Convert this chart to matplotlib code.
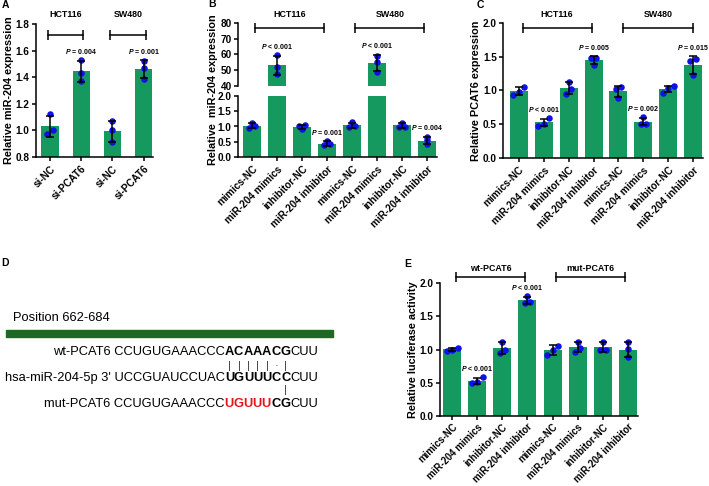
import numpy as np
import matplotlib
matplotlib.use('Agg')
from matplotlib import pyplot as plt
from matplotlib.patches import Rectangle

plt.rcParams['font.family'] = ['Liberation Sans', 'DejaVu Sans']
plt.rcParams['font.weight'] = 'bold'
plt.rcParams['mathtext.fontset'] = 'custom'
plt.rcParams['mathtext.it'] = 'Liberation Sans:italic:bold'
plt.rcParams['mathtext.rm'] = 'Liberation Sans:bold'

W, H = 709, 486
BAR_COLOR = '#16995f'
DOT_COLOR = '#1010e8'
TICK_FS = 7.2
PV_FS = 5.0

# ---- data ----
a_labels = ['si-NC', 'si-PCAT6', 'si-NC', 'si-PCAT6']
a_points = [[0.97, 1.12, 1.00], [1.53, 1.43, 1.37], [1.07, 1.00, 0.91], [1.52, 1.47, 1.39]]
a_pvals = ['', '$P$ = 0.004', '', '$P$ = 0.001']

group_labels = ['mimics-NC', 'miR-204 mimics', 'inhibitor-NC', 'miR-204 inhibitor'] * 2

b_points = [[1.11, 0.96, 1.00], [59.4, 52.3, 47.7], [1.04, 0.92, 1.02], [0.52, 0.38, 0.42],
            [1.14, 0.99, 1.00], [59.1, 55.5, 49.1], [1.13, 0.99, 0.99], [0.65, 0.55, 0.42]]
b_pvals = ['', '$P$ < 0.001', '', '$P$ = 0.001', '', '$P$ < 0.001', '', '$P$ = 0.004']

c_points = [[1.05, 0.98, 0.93], [0.59, 0.48, 0.51], [1.13, 0.95, 1.02], [1.48, 1.48, 1.38],
            [1.05, 1.02, 0.89], [0.60, 0.51, 0.51], [1.07, 1.03, 0.97], [1.47, 1.43, 1.23]]
c_pvals = ['', '$P$ < 0.001', '', '$P$ = 0.005', '', '$P$ = 0.002', '', '$P$ = 0.015']

e_points = [[1.03, 0.98, 1.00], [0.58, 0.49, 0.51], [1.12, 0.95, 1.00], [1.80, 1.70, 1.72],
            [1.06, 0.92, 1.00], [1.12, 0.96, 1.03], [1.12, 0.99, 0.99], [1.11, 1.01, 0.88]]
e_pvals = ['', '$P$ < 0.001', '', '$P$ < 0.001', '', '', '', '']


def rect(l, t, r, b):
    return [l / W, 1 - b / H, (r - l) / W, (b - t) / H]


def fx(x):
    return x / W


def fy(y):
    return 1 - y / H


def spread(vals, tol):
    # put points with nearly the same value side by side
    order = np.argsort(vals)
    offs = np.zeros(len(vals))
    groups, cur = [], [order[0]]
    for i in order[1:]:
        if vals[i] - vals[cur[-1]] < tol:
            cur.append(i)
        else:
            groups.append(cur)
            cur = [i]
    groups.append(cur)
    for g in groups:
        n = len(g)
        for k, i in enumerate(g):
            offs[i] = (k - (n - 1) / 2) * 0.22
    return offs


def add_pvals(ax, points, pvals):
    for i, t in enumerate(pvals):
        if t:
            top = np.mean(points[i]) + np.std(points[i], ddof=1)
            ax.annotate(t, xy=(i, top), xytext=(0, 3.5), textcoords='offset points',
                        ha='center', va='bottom', fontsize=PV_FS, fontweight='bold',
                        annotation_clip=False)


def draw_bars(ax, points, width, ylim):
    x = np.arange(len(points))
    means = np.array([np.mean(p) for p in points])
    sds = np.array([np.std(p, ddof=1) for p in points])
    ax.bar(x, means, width=width, color=BAR_COLOR, zorder=2)
    tol = 0.04 * (ylim[1] - ylim[0])
    for i, p in enumerate(points):
        offs = spread(np.array(p), tol)
        ax.scatter(i + offs, p, s=22, color=DOT_COLOR, zorder=3, linewidths=0)
    ax.errorbar(x, means, yerr=sds, fmt='none', ecolor='black', elinewidth=1.1,
                capsize=3, capthick=1.1, zorder=4)
    ax.set_ylim(*ylim)


def style(ax, labels=None, xfs=TICK_FS, xpad=2):
    for s in ['top', 'right']:
        ax.spines[s].set_visible(False)
    for s in ['left', 'bottom']:
        ax.spines[s].set_linewidth(1.1)
    ax.tick_params(axis='y', length=3, width=1.1, labelsize=TICK_FS, pad=1.5)
    ax.tick_params(axis='x', length=3, width=1.1, labelsize=xfs, pad=xpad)
    if labels is not None:
        ax.set_xticks(np.arange(len(labels)))
        ax.set_xticklabels(labels, rotation=45, ha='right', rotation_mode='anchor',
                           fontweight='bold')
    for lab in ax.get_yticklabels():
        lab.set_fontweight('bold')


def bracket(ax, x0, x1, y, ylab, text):
    ax.plot([x0, x1], [y, y], color='black', lw=1.1, marker='|', ms=7.5, mew=1.1,
            clip_on=False, zorder=5)
    ax.text((x0 + x1) / 2, ylab, text, ha='center', va='center', fontsize=6.4,
            fontweight='bold', clip_on=False)


fig = plt.figure(figsize=(W / 100, H / 100), dpi=100)

# ---- panel D (drawing layer covering the figure) ----
axd = fig.add_axes([0, 0, 1, 1])
axd.set_axis_off()
axd.set_xlim(0, 1)
axd.set_ylim(0, 1)
axd.add_patch(Rectangle((fx(6), fy(336.5)), fx(327), 7 / H, color='#1c6a20',
                        transform=axd.transAxes))
axd.text(fx(13), fy(318), 'Position 662-684', ha='left', va='center', fontsize=9.3,
         fontweight='normal')

SEQ_FS = 9.25


def seq_line(y, pieces):
    arts = []
    prev = None
    for txt, wt, col in reversed(pieces):
        if prev is None:
            prev = axd.text(fx(318), fy(y), txt, ha='right', va='center', fontsize=SEQ_FS,
                            fontweight=wt, color=col, transform=axd.transAxes)
        else:
            prev = axd.annotate(txt, xy=(0, 0), xycoords=prev, ha='right', va='bottom',
                                fontsize=SEQ_FS, fontweight=wt, color=col)
        arts.append(prev)
    return arts[::-1]


wt_bold = list('ACAAACG')
mir_bold = list('UGUUUCC')
seq_line(352, [('wt-PCAT6 CCUGUGAAACCC', 'normal', 'black')]
         + [(c, 'bold', 'black') for c in wt_bold] + [('CUU', 'normal', 'black')])
mir_arts = seq_line(378, [("hsa-miR-204-5p 3' UCCGUAUCCUAC", 'normal', 'black')]
                    + [(c, 'bold', 'black') for c in mir_bold] + [('CUU', 'normal', 'black')])
seq_line(404, [('mut-PCAT6 CCUGUGAAACCC', 'normal', 'black')]
         + [(c, 'bold', '#e8141c') for c in 'UGUUU'] + [(c, 'bold', 'black') for c in 'CG']
         + [('CUU', 'normal', 'black')])

marks = ['|', '|', '|', '|', '|', '\u00b7', '|']
for art, m in zip(mir_arts[1:8], marks):
    axd.annotate(m, xy=(0.5, 1), xycoords=art, xytext=(0, 0.5), textcoords='offset points',
                 ha='center', va='bottom', fontsize=8, fontweight='normal', color='#333333')
axd.annotate('|', xy=(0.5, 0), xycoords=mir_arts[7], xytext=(0, -0.5),
             textcoords='offset points', ha='center', va='top', fontsize=8,
             fontweight='normal', color='#333333')

# ---- panel A ----
axa = fig.add_axes(rect(36, 24, 153, 157))
draw_bars(axa, a_points, 0.55, (0.8, 1.8))
add_pvals(axa, a_points, a_pvals)
axa.set_xlim(-0.45, 3.3)
axa.set_yticks(np.arange(0.8, 1.81, 0.2))
axa.set_yticklabels(['%.1f' % v for v in np.arange(0.8, 1.81, 0.2)])
style(axa, a_labels)
axa.set_ylabel('Relative miR-204 expression', fontsize=7.8, fontweight='bold', labelpad=1.5)
bracket(axa, -0.07, 1.05, 1.72, 1.868, 'HCT116')
bracket(axa, 1.93, 3.07, 1.72, 1.868, 'SW480')

# ---- panel B (broken axis) ----
axb_hi = fig.add_axes(rect(238, 23, 437, 86))
axb_lo = fig.add_axes(rect(238, 96, 437, 157))
draw_bars(axb_hi, b_points, 0.72, (40, 80))
draw_bars(axb_lo, b_points, 0.72, (0, 2))
add_pvals(axb_hi, b_points, [t if max(p) > 2 else '' for t, p in zip(b_pvals, b_points)])
add_pvals(axb_lo, b_points, [t if max(p) <= 2 else '' for t, p in zip(b_pvals, b_points)])
for ax in [axb_hi, axb_lo]:
    ax.set_xlim(-0.56, 7.4)
axb_hi.set_yticks([40, 50, 60, 70, 80])
style(axb_hi)
axb_hi.spines['bottom'].set_visible(False)
axb_hi.set_xticks([])
axb_lo.set_yticks([0, 0.5, 1.0, 1.5, 2.0])
axb_lo.set_yticklabels(['0.0', '0.5', '1.0', '1.5', '2.0'])
style(axb_lo, group_labels)
fig.text(fx(213), fy(90), 'Relative  miR-204 expression', rotation=90, ha='center',
         va='center', fontsize=7.8, fontweight='bold')
bracket(axb_hi, 0.13, 2.9, 76.8, 85.2, 'HCT116')
bracket(axb_hi, 4.13, 6.9, 76.8, 85.2, 'SW480')

# ---- panel C ----
axc = fig.add_axes(rect(503, 23, 703, 158))
draw_bars(axc, c_points, 0.72, (0, 2))
add_pvals(axc, c_points, c_pvals)
axc.set_xlim(-0.64, 7.4)
axc.set_yticks([0, 0.5, 1.0, 1.5, 2.0])
axc.set_yticklabels(['0.0', '0.5', '1.0', '1.5', '2.0'])
style(axc, group_labels)
axc.set_ylabel('Relative PCAT6 expression', fontsize=7.8, fontweight='bold', labelpad=1.5)
bracket(axc, 0.15, 2.92, 1.926, 2.12, 'HCT116')
bracket(axc, 4.18, 7.0, 1.926, 2.12, 'SW480')

# ---- panel E ----
axe = fig.add_axes(rect(440, 283, 638, 416))
draw_bars(axe, e_points, 0.72, (0, 2))
add_pvals(axe, e_points, e_pvals)
axe.set_xlim(-0.48, 7.4)
axe.set_yticks([0, 0.5, 1.0, 1.5, 2.0])
axe.set_yticklabels(['0.0', '0.5', '1.0', '1.5', '2.0'])
style(axe, group_labels, xfs=6.9, xpad=1.2)
axe.set_ylabel('Relative luciferase activity', fontsize=7.8, fontweight='bold', labelpad=1.5)
bracket(axe, 0.15, 2.92, 2.09, 2.225, 'wt-PCAT6')
bracket(axe, 4.12, 6.88, 2.09, 2.225, 'mut-PCAT6')

# ---- panel letters ----
for letter, x, y in [('A', 5, 5), ('B', 212, 4), ('C', 480, 5), ('D', 5, 263), ('E', 408, 264)]:
    fig.text(fx(x), fy(y), letter, ha='center', va='center', fontsize=7.5, fontweight='bold')

fig.savefig('out.png', dpi=100)
